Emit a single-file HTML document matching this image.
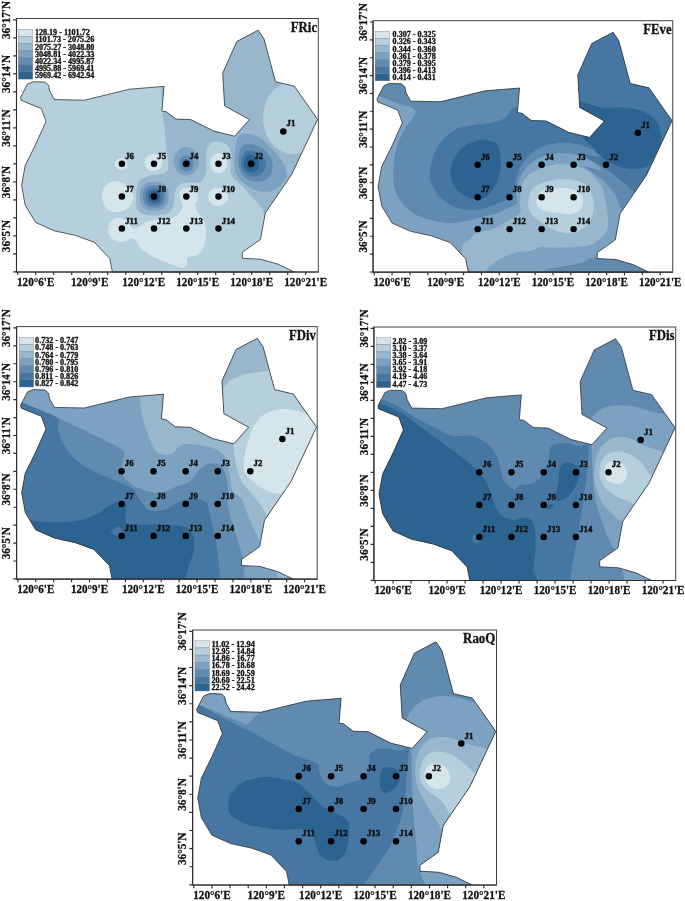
<!DOCTYPE html><html><head><meta charset="utf-8"><title>Functional diversity maps</title><style>
html,body{margin:0;padding:0;background:#fff}
svg{display:block}
text{font-family:"Liberation Serif",serif;font-weight:bold;fill:#111;stroke:#111;stroke-width:0.3px}
.ax{font-size:12.2px}.ti{font-size:14.4px}.lg{font-size:7.3px}.st{font-size:9.0px;stroke-width:0.45px}
</style></head><body>
<svg width="685" height="901" viewBox="0 0 685 901">
<defs><clipPath id="land"><path d="M33.3,81.7L45.0,82.1L48.5,85.2L49.7,91.0L54.4,99.6L84.5,100.2L129.4,89.2L164.0,86.4L161.9,111.2L166.3,111.7L175.9,119.1L190.8,119.6L213.6,131.0L234.6,136.2L249.5,119.6L224.6,105.9L222.7,73.2L236.8,41.5L258.2,30.2L264.0,38.8L275.5,81.7L294.3,86.2L317.6,119.3L291.8,174.3L265.4,212.8L260.5,239.4L242.3,252.3L242.3,258.3L261.0,259.3L278.3,264.3L294.3,272.0L112.4,272.0L109.8,258.5L94.2,242.2L75.4,235.4L54.3,230.8L35.6,222.5L25.2,205.2L21.6,185.4L25.2,165.6L35.6,144.6L46.0,121.4L41.4,108.6L21.3,100.4L20.5,97.5L27.5,84.0Z"/></clipPath></defs>
<rect width="685" height="901" fill="#fff"/>
<g transform="translate(0,0) scale(1,1)">
<g clip-path="url(#land)">
<rect x="0" y="0" width="340" height="300" fill="#b6cfdc"/>
<path d="M160.0,60.0C160.4,78.7 161.8,100.7 162.5,112.0C163.2,123.3 163.8,121.7 164.5,128.0C165.2,134.3 165.9,143.5 166.5,150.0C167.1,156.5 168.8,163.1 168.3,167.0C167.8,170.9 166.6,172.1 163.5,173.6C160.4,175.1 153.6,174.7 149.7,175.8C145.8,176.9 142.1,177.8 139.9,180.2C137.7,182.6 137.2,185.4 136.6,190.0C136.0,194.6 135.5,203.6 136.6,207.6C137.7,211.6 139.4,212.9 143.1,214.2C146.8,215.5 154.1,215.6 158.5,215.2C162.9,214.8 166.8,214.0 169.4,212.0C172.0,210.0 172.9,206.5 173.8,203.2C174.7,199.9 174.0,195.4 174.9,192.3C175.8,189.2 176.9,186.2 179.3,184.6C181.7,182.9 185.8,182.8 189.1,182.4C192.4,182.1 196.3,183.6 199.0,182.5C201.7,181.4 203.7,178.9 205.0,176.0C206.3,173.1 206.3,169.3 206.6,165.0C206.9,160.7 205.9,153.7 206.6,150.0C207.3,146.3 209.0,144.4 211.0,143.0C213.0,141.6 216.0,141.2 218.7,141.5C221.4,141.8 225.0,143.1 227.0,145.0C229.0,146.9 230.1,148.6 230.7,152.8C231.3,157.0 230.3,166.4 230.7,170.4C231.1,174.4 230.7,174.1 232.9,177.0C235.1,179.9 239.2,182.8 243.9,187.9C248.7,193.0 256.7,202.6 261.4,207.6C266.1,212.6 258.9,216.3 272.0,218.0C285.1,219.7 328.7,254.3 340.0,218.0C351.3,181.7 370.0,36.3 340.0,0.0C310.0,-36.3 190.0,-10.0 160.0,0.0C130.0,10.0 159.6,41.3 160.0,60.0Z" fill="#98b7cd" />
<path d="M323.0,118.0C323.0,122.6 322.2,127.5 320.7,131.8C319.3,136.0 316.9,140.2 314.2,143.5C311.5,146.7 308.0,149.5 304.5,151.3C300.9,153.0 296.8,154.0 293.0,154.0C289.2,154.0 285.1,153.0 281.5,151.3C278.0,149.5 274.5,146.7 271.8,143.5C269.1,140.2 266.7,136.0 265.3,131.8C263.8,127.5 263.0,122.6 263.0,118.0C263.0,113.4 263.8,108.5 265.3,104.2C266.7,100.0 269.1,95.8 271.8,92.5C274.5,89.3 278.0,86.5 281.5,84.7C285.1,83.0 289.2,82.0 293.0,82.0C296.8,82.0 300.9,83.0 304.5,84.7C308.0,86.5 311.5,89.3 314.2,92.5C316.9,95.8 319.3,100.0 320.7,104.2C322.2,108.5 323.0,113.4 323.0,118.0Z" fill="#b6cfdc" />
<path d="M239.0,135.5C236.7,137.8 236.0,142.5 235.3,148.0C234.6,153.5 233.8,163.1 234.6,168.4C235.4,173.8 237.5,176.7 240.4,180.1C243.3,183.5 247.7,186.9 252.1,188.8C256.5,190.8 262.3,192.0 266.7,191.8C271.1,191.6 275.2,189.6 278.4,187.4C281.6,185.2 284.4,181.3 285.7,178.6C287.0,175.9 287.1,174.5 286.4,171.3C285.7,168.1 283.6,163.2 281.3,159.6C279.0,155.9 276.0,152.9 272.6,149.4C269.2,145.9 264.8,141.1 260.9,138.5C257.0,135.9 252.8,134.6 249.2,134.1C245.5,133.6 241.3,133.2 239.0,135.5Z" fill="#7da1c1" />
<path d="M241.9,146.5C239.6,149.1 238.4,155.5 238.2,159.6C237.9,163.7 238.8,168.0 240.4,171.3C242.0,174.6 244.5,177.6 247.7,179.3C250.9,181.0 255.9,181.8 259.4,181.5C262.9,181.2 266.7,179.4 268.9,177.2C271.1,175.0 272.2,171.6 272.6,168.4C273.0,165.2 272.6,161.4 271.1,158.2C269.6,155.0 267.0,151.7 263.8,149.4C260.6,147.1 255.8,144.8 252.1,144.3C248.4,143.8 244.2,143.9 241.9,146.5Z" fill="#618ab1" />
<path d="M244.8,152.3C243.3,154.3 241.1,159.4 240.9,162.6C240.7,165.8 241.5,169.0 243.4,171.3C245.3,173.6 249.2,175.9 252.1,176.4C255.0,176.9 258.7,175.8 260.9,174.2C263.1,172.6 265.0,169.6 265.5,166.9C266.0,164.2 265.3,160.6 263.8,158.2C262.3,155.8 258.8,153.6 256.5,152.3C254.2,151.0 251.8,150.4 249.9,150.4C248.0,150.4 246.3,150.3 244.8,152.3Z" fill="#4676a2" />
<path d="M247.0,155.3C245.6,156.7 243.7,160.9 243.6,163.3C243.5,165.7 244.9,168.5 246.3,169.9C247.7,171.3 250.3,172.0 252.1,172.0C253.9,172.0 256.0,171.2 257.2,169.9C258.4,168.6 259.4,165.9 259.4,164.0C259.4,162.1 258.4,159.7 257.2,158.2C256.0,156.7 253.8,155.5 252.1,155.0C250.4,154.5 248.4,153.9 247.0,155.3Z" fill="#2c6390" />
<path d="M255.8,164.0C255.8,164.6 255.7,165.2 255.5,165.8C255.3,166.3 254.9,166.8 254.5,167.3C254.1,167.7 253.6,168.0 253.1,168.2C252.6,168.5 252.0,168.6 251.4,168.6C250.8,168.6 250.2,168.5 249.7,168.2C249.2,168.0 248.7,167.7 248.3,167.3C247.9,166.8 247.5,166.3 247.3,165.8C247.1,165.2 247.0,164.6 247.0,164.0C247.0,163.4 247.1,162.8 247.3,162.2C247.5,161.7 247.9,161.2 248.3,160.7C248.7,160.3 249.2,160.0 249.7,159.8C250.2,159.5 250.8,159.4 251.4,159.4C252.0,159.4 252.6,159.5 253.1,159.8C253.6,160.0 254.1,160.3 254.5,160.7C254.9,161.2 255.3,161.7 255.5,162.2C255.7,162.8 255.8,163.4 255.8,164.0Z" fill="#245a8a" />
<path d="M198.9,161.2C198.9,163.0 198.6,165.0 197.9,166.6C197.3,168.3 196.3,170.0 195.2,171.2C194.1,172.5 192.6,173.6 191.1,174.3C189.6,175.0 187.9,175.4 186.3,175.4C184.7,175.4 183.0,175.0 181.5,174.3C180.0,173.6 178.5,172.5 177.4,171.2C176.3,170.0 175.3,168.3 174.7,166.6C174.0,165.0 173.7,163.0 173.7,161.2C173.7,159.4 174.0,157.4 174.7,155.8C175.3,154.1 176.3,152.4 177.4,151.2C178.5,149.9 180.0,148.8 181.5,148.1C183.0,147.4 184.7,147.0 186.3,147.0C187.9,147.0 189.6,147.4 191.1,148.1C192.6,148.8 194.1,149.9 195.2,151.2C196.3,152.4 197.3,154.1 197.9,155.8C198.6,157.4 198.9,159.4 198.9,161.2Z" fill="#7da1c1" />
<path d="M193.4,163.4C193.4,164.4 193.2,165.6 192.9,166.5C192.5,167.5 192.0,168.5 191.3,169.2C190.7,169.9 189.9,170.6 189.0,171.0C188.2,171.4 187.2,171.6 186.3,171.6C185.4,171.6 184.4,171.4 183.6,171.0C182.7,170.6 181.9,169.9 181.3,169.2C180.6,168.5 180.1,167.5 179.7,166.5C179.4,165.6 179.2,164.4 179.2,163.4C179.2,162.4 179.4,161.2 179.7,160.3C180.1,159.3 180.6,158.3 181.3,157.6C181.9,156.9 182.7,156.2 183.6,155.8C184.4,155.4 185.4,155.2 186.3,155.2C187.2,155.2 188.2,155.4 189.0,155.8C189.9,156.2 190.7,156.9 191.3,157.6C192.0,158.3 192.5,159.3 192.9,160.3C193.2,161.2 193.4,162.4 193.4,163.4Z" fill="#618ab1" />
<path d="M190.8,163.7C190.8,164.3 190.7,165.0 190.5,165.5C190.2,166.1 189.9,166.7 189.5,167.1C189.1,167.5 188.6,167.9 188.0,168.1C187.5,168.4 186.9,168.5 186.3,168.5C185.7,168.5 185.1,168.4 184.6,168.1C184.0,167.9 183.5,167.5 183.1,167.1C182.7,166.7 182.4,166.1 182.1,165.5C181.9,165.0 181.8,164.3 181.8,163.7C181.8,163.1 181.9,162.4 182.1,161.9C182.4,161.3 182.7,160.7 183.1,160.3C183.5,159.9 184.0,159.5 184.6,159.3C185.1,159.0 185.7,158.9 186.3,158.9C186.9,158.9 187.5,159.0 188.0,159.3C188.6,159.5 189.1,159.9 189.5,160.3C189.9,160.7 190.2,161.3 190.5,161.9C190.7,162.4 190.8,163.1 190.8,163.7Z" fill="#4676a2" />
<rect x="139.9" y="182.1" width="28.6" height="28.6" rx="11.4" fill="#7da1c1"/>
<rect x="143.0" y="185.2" width="22.4" height="22.4" rx="9.0" fill="#618ab1"/>
<rect x="145.7" y="187.9" width="17.0" height="17.0" rx="6.8" fill="#4676a2"/>
<rect x="148.4" y="190.6" width="11.6" height="11.6" rx="4.6" fill="#2c6390"/>
<rect x="150.4" y="192.6" width="7.6" height="7.6" rx="3.0" fill="#245a8a"/>
<path d="M127.7,164.0C127.7,164.8 127.5,165.6 127.2,166.3C126.9,167.0 126.4,167.7 125.8,168.2C125.2,168.8 124.5,169.3 123.7,169.5C122.9,169.8 122.0,170.0 121.2,170.0C120.4,170.0 119.5,169.8 118.7,169.5C117.9,169.3 117.2,168.8 116.6,168.2C116.0,167.7 115.5,167.0 115.2,166.3C114.9,165.6 114.7,164.8 114.7,164.0C114.7,163.2 114.9,162.4 115.2,161.7C115.5,161.0 116.0,160.3 116.6,159.8C117.2,159.2 117.9,158.7 118.7,158.5C119.5,158.2 120.4,158.0 121.2,158.0C122.0,158.0 122.9,158.2 123.7,158.5C124.5,158.7 125.2,159.2 125.8,159.8C126.4,160.3 126.9,161.0 127.2,161.7C127.5,162.4 127.7,163.2 127.7,164.0Z" fill="#d4e5eb" />
<path d="M162.3,162.6C162.3,163.7 162.1,164.9 161.6,165.9C161.2,166.9 160.5,167.9 159.7,168.7C158.9,169.5 157.9,170.1 156.8,170.5C155.8,171.0 154.5,171.2 153.4,171.2C152.3,171.2 151.0,171.0 150.0,170.5C148.9,170.1 147.9,169.5 147.1,168.7C146.3,167.9 145.6,166.9 145.2,165.9C144.7,164.9 144.5,163.7 144.5,162.6C144.5,161.5 144.7,160.3 145.2,159.3C145.6,158.3 146.3,157.3 147.1,156.5C147.9,155.7 148.9,155.1 150.0,154.7C151.0,154.2 152.3,154.0 153.4,154.0C154.5,154.0 155.8,154.2 156.8,154.7C157.9,155.1 158.9,155.7 159.7,156.5C160.5,157.3 161.2,158.3 161.6,159.3C162.1,160.3 162.3,161.5 162.3,162.6Z" fill="#d4e5eb" />
<path d="M227.1,163.3C227.1,164.6 226.9,166.0 226.5,167.2C226.0,168.5 225.4,169.7 224.6,170.6C223.8,171.5 222.9,172.3 221.9,172.8C220.9,173.3 219.7,173.6 218.6,173.6C217.5,173.6 216.3,173.3 215.3,172.8C214.3,172.3 213.4,171.5 212.6,170.6C211.8,169.7 211.2,168.5 210.7,167.2C210.3,166.0 210.1,164.6 210.1,163.3C210.1,162.0 210.3,160.6 210.7,159.4C211.2,158.1 211.8,156.9 212.6,156.0C213.4,155.1 214.3,154.3 215.3,153.8C216.3,153.3 217.5,153.0 218.6,153.0C219.7,153.0 220.9,153.3 221.9,153.8C222.9,154.3 223.8,155.1 224.6,156.0C225.4,156.9 226.0,158.1 226.5,159.4C226.9,160.6 227.1,162.0 227.1,163.3Z" fill="#d4e5eb" />
<path d="M228.2,196.9C228.2,198.0 227.9,199.3 227.4,200.3C227.0,201.4 226.2,202.5 225.3,203.3C224.4,204.1 223.2,204.8 222.0,205.2C220.8,205.7 219.5,205.9 218.2,205.9C216.9,205.9 215.6,205.7 214.4,205.2C213.2,204.8 212.0,204.1 211.1,203.3C210.2,202.5 209.4,201.4 209.0,200.3C208.5,199.3 208.2,198.0 208.2,196.9C208.2,195.8 208.5,194.5 209.0,193.5C209.4,192.4 210.2,191.3 211.1,190.5C212.0,189.7 213.2,189.0 214.4,188.6C215.6,188.1 216.9,187.9 218.2,187.9C219.5,187.9 220.8,188.1 222.0,188.6C223.2,189.0 224.4,189.7 225.3,190.5C226.2,191.3 227.0,192.4 227.4,193.5C227.9,194.5 228.2,195.8 228.2,196.9Z" fill="#d4e5eb" />
<path d="M102.0,197.0C101.7,193.7 102.7,190.4 104.0,188.0C105.3,185.6 107.7,183.6 110.0,182.5C112.3,181.4 115.3,181.1 118.0,181.5C120.7,181.9 123.7,183.2 126.0,185.0C128.3,186.8 130.8,189.8 132.0,192.0C133.2,194.2 133.7,195.8 133.5,198.0C133.3,200.2 132.6,202.9 131.0,205.0C129.4,207.1 126.8,209.3 124.0,210.5C121.2,211.7 117.0,212.4 114.0,212.0C111.0,211.6 108.0,210.5 106.0,208.0C104.0,205.5 102.3,200.3 102.0,197.0Z" fill="#d4e5eb" />
<path d="M108.2,229.0C108.4,226.4 109.5,222.8 111.2,220.9C112.9,219.0 115.8,217.8 118.4,217.8C121.0,217.8 124.2,219.2 126.6,220.9C129.0,222.6 130.5,227.2 132.7,228.0C134.9,228.8 137.2,227.2 139.9,226.0C142.6,224.8 145.8,221.9 149.0,220.9C152.2,219.9 155.9,220.2 159.3,219.9C162.7,219.6 166.3,219.8 169.5,218.8C172.7,217.8 176.5,215.7 178.7,213.7C180.9,211.7 182.5,209.0 182.8,206.6C183.1,204.2 181.2,201.8 180.7,199.4C180.2,197.0 179.2,194.2 179.7,192.3C180.2,190.4 182.1,188.9 183.8,188.2C185.5,187.5 187.9,187.5 189.9,188.2C191.9,188.9 194.7,190.4 196.1,192.3C197.5,194.2 198.3,197.2 198.1,199.4C197.9,201.6 195.0,203.3 195.0,205.5C195.0,207.7 196.6,210.1 198.1,212.7C199.6,215.3 202.8,217.5 204.2,220.9C205.6,224.3 206.3,229.0 206.3,233.1C206.3,237.2 205.6,241.8 204.2,245.4C202.8,249.0 200.8,252.6 198.1,254.6C195.4,256.6 189.8,256.0 187.9,257.7C186.0,259.4 187.8,263.1 186.9,264.8C186.1,266.5 185.7,268.1 182.8,267.9C179.9,267.7 174.4,265.7 169.5,263.8C164.6,261.9 157.7,259.0 153.1,256.6C148.5,254.2 144.8,252.1 141.9,249.5C139.0,246.9 137.5,243.2 135.8,241.3C134.1,239.4 133.6,238.2 131.7,238.2C129.8,238.2 127.1,240.8 124.5,241.3C121.9,241.8 118.7,242.2 116.3,241.3C113.9,240.5 111.5,238.2 110.2,236.2C108.9,234.1 108.0,231.6 108.2,229.0Z" fill="#d4e5eb" />
</g>
<path d="M33.3,81.7L45.0,82.1L48.5,85.2L49.7,91.0L54.4,99.6L84.5,100.2L129.4,89.2L164.0,86.4L161.9,111.2L166.3,111.7L175.9,119.1L190.8,119.6L213.6,131.0L234.6,136.2L249.5,119.6L224.6,105.9L222.7,73.2L236.8,41.5L258.2,30.2L264.0,38.8L275.5,81.7L294.3,86.2L317.6,119.3L291.8,174.3L265.4,212.8L260.5,239.4L242.3,252.3L242.3,258.3L261.0,259.3L278.3,264.3L294.3,272.0L112.4,272.0L109.8,258.5L94.2,242.2L75.4,235.4L54.3,230.8L35.6,222.5L25.2,205.2L21.6,185.4L25.2,165.6L35.6,144.6L46.0,121.4L41.4,108.6L21.3,100.4L20.5,97.5L27.5,84.0Z" fill="none" stroke="#333" stroke-width="0.8" stroke-linejoin="round"/>
<rect x="16.5" y="18.5" width="301.8" height="253.5" fill="none" stroke="#404040" stroke-width="1"/>
<path d="M13.2,19.8H16.5M13.2,37.8H16.5M13.2,55.8H16.5M13.2,73.8H16.5M13.2,91.8H16.5M13.2,109.8H16.5M13.2,127.8H16.5M13.2,145.8H16.5M13.2,163.8H16.5M13.2,181.8H16.5M13.2,199.8H16.5M13.2,217.8H16.5M13.2,235.8H16.5M13.2,253.8H16.5M13.2,271.8H16.5M17.7,272.0V275.1M35.7,272.0V275.1M53.7,272.0V275.1M71.7,272.0V275.1M89.7,272.0V275.1M107.7,272.0V275.1M125.7,272.0V275.1M143.7,272.0V275.1M161.7,272.0V275.1M179.7,272.0V275.1M197.7,272.0V275.1M215.7,272.0V275.1M233.7,272.0V275.1M251.7,272.0V275.1M269.7,272.0V275.1M287.7,272.0V275.1M305.7,272.0V275.1M16.5,18.5V272.0H318.3" stroke="#2e2e2e" stroke-width="1.15" fill="none"/>
<text class="ax" transform="translate(10.3,20) rotate(-90) scale(0.915,1)" text-anchor="middle">36°17'N</text>
<text class="ax" transform="translate(10.3,74) rotate(-90) scale(0.915,1)" text-anchor="middle">36°14'N</text>
<text class="ax" transform="translate(10.3,128) rotate(-90) scale(0.915,1)" text-anchor="middle">36°11'N</text>
<text class="ax" transform="translate(10.3,182) rotate(-90) scale(0.915,1)" text-anchor="middle">36°8'N</text>
<text class="ax" transform="translate(10.3,236) rotate(-90) scale(0.915,1)" text-anchor="middle">36°5'N</text>
<text class="ax" transform="translate(35.7,285.6) scale(0.915,1)" text-anchor="middle">120°6'E</text>
<text class="ax" transform="translate(89.7,285.6) scale(0.915,1)" text-anchor="middle">120°9'E</text>
<text class="ax" transform="translate(143.7,285.6) scale(0.915,1)" text-anchor="middle">120°12'E</text>
<text class="ax" transform="translate(197.7,285.6) scale(0.915,1)" text-anchor="middle">120°15'E</text>
<text class="ax" transform="translate(251.7,285.6) scale(0.915,1)" text-anchor="middle">120°18'E</text>
<text class="ax" transform="translate(305.7,285.6) scale(0.915,1)" text-anchor="middle">120°21'E</text>
<text class="ti" transform="translate(317.1,31.8) scale(0.89,1)" text-anchor="end">FRic</text>
<rect x="18.4" y="29.20" width="14.4" height="7.13" fill="#d4e5eb" stroke="#777" stroke-width="0.35"/>
<text class="lg" x="34.9" y="35.30" textLength="54.9" lengthAdjust="spacingAndGlyphs">128.19 - 1101.72</text>
<rect x="18.4" y="36.33" width="14.4" height="7.13" fill="#b6cfdc" stroke="#777" stroke-width="0.35"/>
<text class="lg" x="34.9" y="42.43" textLength="59.5" lengthAdjust="spacingAndGlyphs">1101.73 - 2075.26</text>
<rect x="18.4" y="43.46" width="14.4" height="7.13" fill="#98b7cd" stroke="#777" stroke-width="0.35"/>
<text class="lg" x="34.9" y="49.56" textLength="59.5" lengthAdjust="spacingAndGlyphs">2075.27 - 3048.80</text>
<rect x="18.4" y="50.59" width="14.4" height="7.13" fill="#7da1c1" stroke="#777" stroke-width="0.35"/>
<text class="lg" x="34.9" y="56.69" textLength="59.5" lengthAdjust="spacingAndGlyphs">3048.81 - 4022.33</text>
<rect x="18.4" y="57.72" width="14.4" height="7.13" fill="#618ab1" stroke="#777" stroke-width="0.35"/>
<text class="lg" x="34.9" y="63.82" textLength="59.5" lengthAdjust="spacingAndGlyphs">4022.34 - 4995.87</text>
<rect x="18.4" y="64.85" width="14.4" height="7.13" fill="#4676a2" stroke="#777" stroke-width="0.35"/>
<text class="lg" x="34.9" y="70.95" textLength="59.5" lengthAdjust="spacingAndGlyphs">4995.88 - 5969.41</text>
<rect x="18.4" y="71.98" width="14.4" height="7.13" fill="#2c6390" stroke="#777" stroke-width="0.35"/>
<text class="lg" x="34.9" y="78.08" textLength="59.5" lengthAdjust="spacingAndGlyphs">5969.42 - 6942.94</text>
<circle cx="121.9" cy="163.8" r="3.25" fill="#000"/>
<text class="st" transform="translate(125.2,158.8) scale(0.98,1)">J6</text>
<circle cx="154.0" cy="163.8" r="3.25" fill="#000"/>
<text class="st" transform="translate(157.3,158.8) scale(0.98,1)">J5</text>
<circle cx="186.3" cy="163.8" r="3.25" fill="#000"/>
<text class="st" transform="translate(189.60000000000002,158.8) scale(0.98,1)">J4</text>
<circle cx="218.5" cy="163.8" r="3.25" fill="#000"/>
<text class="st" transform="translate(221.8,158.8) scale(0.98,1)">J3</text>
<circle cx="251.1" cy="163.8" r="3.25" fill="#000"/>
<text class="st" transform="translate(254.4,158.8) scale(0.98,1)">J2</text>
<circle cx="121.9" cy="196.5" r="3.25" fill="#000"/>
<text class="st" transform="translate(125.2,191.5) scale(0.98,1)">J7</text>
<circle cx="154.0" cy="196.5" r="3.25" fill="#000"/>
<text class="st" transform="translate(157.3,191.5) scale(0.98,1)">J8</text>
<circle cx="186.3" cy="196.5" r="3.25" fill="#000"/>
<text class="st" transform="translate(189.60000000000002,191.5) scale(0.98,1)">J9</text>
<circle cx="218.5" cy="196.5" r="3.25" fill="#000"/>
<text class="st" transform="translate(221.8,191.5) scale(0.98,1)">J10</text>
<circle cx="121.9" cy="228.6" r="3.25" fill="#000"/>
<text class="st" transform="translate(125.2,223.6) scale(0.98,1)">J11</text>
<circle cx="154.0" cy="228.6" r="3.25" fill="#000"/>
<text class="st" transform="translate(157.3,223.6) scale(0.98,1)">J12</text>
<circle cx="186.3" cy="228.6" r="3.25" fill="#000"/>
<text class="st" transform="translate(189.60000000000002,223.6) scale(0.98,1)">J13</text>
<circle cx="218.5" cy="228.6" r="3.25" fill="#000"/>
<text class="st" transform="translate(221.8,223.6) scale(0.98,1)">J14</text>
<circle cx="283.3" cy="131.4" r="3.25" fill="#000"/>
<text class="st" transform="translate(286.6,126.4) scale(0.98,1)">J1</text>
</g>
<g transform="translate(356.65,2.35) scale(0.993,0.992)">
<g clip-path="url(#land)">
<rect x="0" y="0" width="340" height="300" fill="#7da1c1"/>
<path d="M13.4,89.4C17.1,93.3 17.4,91.7 21.7,93.6C26.0,95.6 33.0,98.5 39.3,101.2C45.6,103.8 57.7,105.1 59.3,109.4C60.9,113.7 51.9,121.0 48.7,127.1C45.6,133.1 42.5,139.2 40.5,145.9C38.5,152.6 37.4,160.5 37.0,167.1C36.5,173.7 36.7,180.0 37.9,185.5C39.1,191.0 41.0,195.4 44.1,199.9C47.2,204.4 51.3,209.0 56.4,212.3C61.6,215.5 68.8,217.8 75.0,219.5C81.1,221.2 87.7,222.4 93.5,222.6C99.3,222.7 104.5,221.5 110.0,220.5C115.4,219.5 121.6,217.6 126.4,216.4C131.2,215.2 134.7,214.7 138.8,213.3C142.9,211.9 147.3,209.9 151.1,208.1C154.9,206.4 159.8,204.7 161.4,203.0C163.1,201.3 160.9,201.2 161.0,198.0C161.2,194.8 161.2,188.2 162.2,183.9C163.2,179.5 164.6,175.8 166.9,172.1C169.3,168.4 172.4,164.4 176.3,161.5C180.3,158.6 185.7,156.0 190.4,154.4C195.2,152.9 199.5,152.3 204.6,152.1C209.7,151.9 215.9,152.1 221.0,153.3C226.1,154.4 230.8,156.4 235.1,159.1C239.5,161.9 247.9,168.7 246.9,169.7C245.9,170.8 229.3,164.0 229.4,165.5C229.4,167.0 242.0,174.1 247.2,178.9C252.4,183.8 257.5,189.7 260.6,194.6C263.8,199.4 263.3,204.6 266.2,208.0C269.2,211.3 265.4,216.0 278.5,214.7C291.7,213.4 333.9,235.8 345.0,200.0C356.1,164.2 402.5,33.3 345.0,0.0C287.5,-33.3 57.5,-11.7 0.0,0.0C-57.5,11.7 -2.2,55.1 0.0,70.0C2.2,84.9 9.8,85.4 13.4,89.4Z" fill="#618ab1" />
<path d="M243.4,256.4C231.0,257.3 233.1,260.6 227.5,262.2C221.9,263.8 215.1,264.7 209.9,265.7C204.6,266.8 199.6,267.3 195.7,268.4C191.9,269.4 189.6,270.1 186.9,271.9C184.3,273.7 173.1,276.6 179.9,279.0C186.6,281.3 207.2,285.4 227.5,286.0C247.8,286.6 289.2,287.4 301.6,282.5C313.9,277.6 311.3,260.7 301.6,256.4C291.9,252.0 255.7,255.4 243.4,256.4Z" fill="#618ab1" />
<path d="M178.1,96.5C177.5,113.7 169.9,101.7 166.3,103.5C162.8,105.3 160.5,104.5 156.9,107.0C153.4,109.6 152.6,115.9 145.2,118.8C137.7,121.8 119.9,123.1 112.2,124.7C104.6,126.3 103.6,125.9 99.3,128.2C95.0,130.6 90.1,134.3 86.4,138.8C82.6,143.3 79.1,149.4 77.0,155.3C74.8,161.2 73.8,169.8 73.4,174.2C73.1,178.5 73.3,177.8 75.0,181.4C76.6,185.0 79.4,191.7 83.2,195.8C87.0,199.9 92.5,203.9 97.6,206.1C102.8,208.3 108.6,209.0 114.1,209.2C119.6,209.3 125.7,208.3 130.5,207.1C135.3,205.9 138.8,203.9 142.9,202.0C147.0,200.1 152.6,198.4 155.2,195.8C157.9,193.2 157.5,190.2 158.7,186.2C159.9,182.3 160.5,176.6 162.2,172.1C164.0,167.6 166.1,163.1 169.3,159.1C172.4,155.2 177.1,151.1 181.0,148.5C185.0,146.0 188.5,145.0 192.8,143.8C197.1,142.7 202.2,141.7 206.9,141.5C211.6,141.3 216.3,141.7 221.0,142.7C225.7,143.6 230.8,145.2 235.1,147.4C239.5,149.5 247.9,154.5 246.9,155.6C245.9,156.8 229.3,152.6 229.4,154.3C229.4,155.9 241.6,161.7 247.2,165.5C252.8,169.2 257.5,172.4 262.9,176.7C268.3,181.0 275.2,187.9 279.6,191.2C284.1,194.6 278.8,197.0 289.7,196.8C300.6,196.6 335.8,222.8 345.0,190.0C354.2,157.2 374.2,31.7 345.0,0.0C315.8,-31.7 197.8,-16.1 170.0,0.0C142.2,16.1 178.7,79.2 178.1,96.5Z" fill="#4676a2" />
<path d="M124.0,138.8C119.3,139.8 112.0,142.4 107.5,145.9C103.0,149.4 99.1,155.3 96.9,160.0C94.8,164.7 94.0,169.4 94.6,174.2C95.2,178.9 97.5,184.6 100.5,188.3C103.4,192.0 108.3,194.8 112.2,196.5C116.2,198.3 120.1,199.9 124.0,198.9C127.9,197.9 132.6,194.4 135.8,190.6C138.9,186.9 141.2,181.2 142.8,176.5C144.4,171.8 145.2,167.5 145.2,162.4C145.2,157.3 144.4,149.6 142.8,145.9C141.2,142.2 138.9,141.2 135.8,140.0C132.6,138.8 128.7,137.9 124.0,138.8Z" fill="#2c6390" />
<path d="M218.2,100.6C221.5,95.9 238.7,105.2 247.2,106.2C255.8,107.1 262.9,105.6 269.6,106.2C276.3,106.7 282.3,107.5 287.5,109.5C292.7,111.6 297.7,114.8 300.9,118.5C304.1,122.2 305.7,127.8 306.5,131.9C307.2,136.0 307.0,138.3 305.4,143.1C303.7,147.9 299.0,157.1 296.4,161.0C293.8,164.9 293.4,165.5 289.7,166.6C286.0,167.7 279.3,168.3 274.1,167.7C268.8,167.2 263.3,165.5 258.4,163.2C253.6,161.0 248.7,157.5 245.0,154.3C241.3,151.1 239.0,147.6 236.1,144.2C233.1,140.9 230.1,141.4 227.1,134.2C224.1,126.9 214.8,105.2 218.2,100.6Z" fill="#2c6390" />
<path d="M111.0,265.8C107.6,260.6 105.3,251.8 105.8,247.3C106.4,242.8 111.7,241.5 114.1,239.1C116.5,236.6 117.2,234.4 120.3,232.9C123.3,231.3 128.5,231.2 132.6,229.8C136.7,228.4 141.2,226.5 144.9,224.6C148.7,222.7 152.0,220.5 155.2,218.4C158.5,216.4 163.0,214.7 164.6,212.1C166.1,209.5 164.4,207.0 164.6,202.7C164.8,198.4 164.4,190.9 165.8,186.2C167.1,181.5 169.5,177.6 172.8,174.4C176.1,171.3 180.8,169.3 185.7,167.4C190.6,165.5 196.3,163.5 202.2,163.1C208.1,162.8 215.5,163.6 221.0,165.0C226.5,166.4 230.8,168.1 235.1,171.6C239.5,175.2 244.2,181.0 246.9,186.2C249.6,191.4 250.0,197.0 251.1,202.7C252.2,208.4 253.3,216.2 253.4,220.7C253.6,225.2 253.3,226.9 252.2,229.5C251.1,232.2 249.3,234.2 246.9,236.6C244.6,238.9 241.6,242.0 238.1,243.7C234.6,245.3 230.4,245.7 225.7,246.3C221.0,246.9 215.4,247.0 209.9,247.2C204.3,247.3 196.3,247.3 192.2,247.2C188.1,247.0 188.1,245.7 185.2,246.3C182.2,246.9 178.5,249.8 174.6,250.7C170.6,251.7 166.1,250.9 161.6,252.0C157.0,253.1 151.6,255.2 147.4,257.3C143.3,259.3 139.8,262.0 136.9,264.3C133.9,266.7 131.6,269.0 129.8,271.4C128.0,273.7 129.4,279.4 126.3,278.5C123.1,277.5 114.4,271.0 111.0,265.8Z" fill="#98b7cd" />
<path d="M172.8,205.1C172.8,201.5 173.0,194.7 175.2,190.9C177.3,187.2 181.2,184.7 185.7,182.7C190.3,180.6 196.3,179.2 202.2,178.7C208.1,178.2 215.9,178.4 221.0,179.6C226.1,180.9 230.0,183.2 232.8,186.2C235.6,189.3 237.1,193.7 238.0,198.0C238.8,202.3 238.8,207.8 238.0,212.1C237.1,216.4 235.6,220.7 232.8,223.9C230.0,227.1 225.3,230.1 221.0,231.4C216.7,232.8 211.6,233.0 206.9,232.1C202.2,231.3 197.1,228.6 192.8,226.2C188.5,223.9 184.0,220.4 181.0,218.0C178.1,215.7 176.5,214.3 175.2,212.1C173.8,210.0 172.8,208.6 172.8,205.1Z" fill="#b6cfdc" />
<path d="M181.0,202.7C180.5,199.8 182.2,194.7 184.6,192.1C186.9,189.6 190.6,188.2 195.2,187.4C199.7,186.6 206.9,186.8 211.6,187.4C216.3,188.0 220.6,188.8 223.4,190.9C226.1,193.1 227.7,197.4 228.1,200.3C228.5,203.3 227.7,206.4 225.7,208.6C223.8,210.7 220.2,212.7 216.3,213.3C212.4,213.9 206.9,212.7 202.2,212.1C197.5,211.5 191.6,211.3 188.1,209.8C184.6,208.2 181.6,205.6 181.0,202.7Z" fill="#d4e5eb" />
</g>
<path d="M33.3,81.7L45.0,82.1L48.5,85.2L49.7,91.0L54.4,99.6L84.5,100.2L129.4,89.2L164.0,86.4L161.9,111.2L166.3,111.7L175.9,119.1L190.8,119.6L213.6,131.0L234.6,136.2L249.5,119.6L224.6,105.9L222.7,73.2L236.8,41.5L258.2,30.2L264.0,38.8L275.5,81.7L294.3,86.2L317.6,119.3L291.8,174.3L265.4,212.8L260.5,239.4L242.3,252.3L242.3,258.3L261.0,259.3L278.3,264.3L294.3,272.0L112.4,272.0L109.8,258.5L94.2,242.2L75.4,235.4L54.3,230.8L35.6,222.5L25.2,205.2L21.6,185.4L25.2,165.6L35.6,144.6L46.0,121.4L41.4,108.6L21.3,100.4L20.5,97.5L27.5,84.0Z" fill="none" stroke="#333" stroke-width="0.8" stroke-linejoin="round"/>
<rect x="16.5" y="18.5" width="301.8" height="253.5" fill="none" stroke="#404040" stroke-width="1"/>
<path d="M13.2,19.8H16.5M13.2,37.8H16.5M13.2,55.8H16.5M13.2,73.8H16.5M13.2,91.8H16.5M13.2,109.8H16.5M13.2,127.8H16.5M13.2,145.8H16.5M13.2,163.8H16.5M13.2,181.8H16.5M13.2,199.8H16.5M13.2,217.8H16.5M13.2,235.8H16.5M13.2,253.8H16.5M13.2,271.8H16.5M17.7,272.0V275.1M35.7,272.0V275.1M53.7,272.0V275.1M71.7,272.0V275.1M89.7,272.0V275.1M107.7,272.0V275.1M125.7,272.0V275.1M143.7,272.0V275.1M161.7,272.0V275.1M179.7,272.0V275.1M197.7,272.0V275.1M215.7,272.0V275.1M233.7,272.0V275.1M251.7,272.0V275.1M269.7,272.0V275.1M287.7,272.0V275.1M305.7,272.0V275.1M16.5,18.5V272.0H318.3" stroke="#2e2e2e" stroke-width="1.15" fill="none"/>
<text class="ax" transform="translate(10.3,20) rotate(-90) scale(0.915,1)" text-anchor="middle">36°17'N</text>
<text class="ax" transform="translate(10.3,74) rotate(-90) scale(0.915,1)" text-anchor="middle">36°14'N</text>
<text class="ax" transform="translate(10.3,128) rotate(-90) scale(0.915,1)" text-anchor="middle">36°11'N</text>
<text class="ax" transform="translate(10.3,182) rotate(-90) scale(0.915,1)" text-anchor="middle">36°8'N</text>
<text class="ax" transform="translate(10.3,236) rotate(-90) scale(0.915,1)" text-anchor="middle">36°5'N</text>
<text class="ax" transform="translate(35.7,285.6) scale(0.915,1)" text-anchor="middle">120°6'E</text>
<text class="ax" transform="translate(89.7,285.6) scale(0.915,1)" text-anchor="middle">120°9'E</text>
<text class="ax" transform="translate(143.7,285.6) scale(0.915,1)" text-anchor="middle">120°12'E</text>
<text class="ax" transform="translate(197.7,285.6) scale(0.915,1)" text-anchor="middle">120°15'E</text>
<text class="ax" transform="translate(251.7,285.6) scale(0.915,1)" text-anchor="middle">120°18'E</text>
<text class="ax" transform="translate(305.7,285.6) scale(0.915,1)" text-anchor="middle">120°21'E</text>
<text class="ti" transform="translate(317.1,31.8) scale(0.89,1)" text-anchor="end">FEve</text>
<rect x="18.6" y="29.20" width="14.4" height="7.13" fill="#d4e5eb" stroke="#777" stroke-width="0.35"/>
<text class="lg" x="36.2" y="35.30" textLength="43.4" lengthAdjust="spacingAndGlyphs">0.307 - 0.325</text>
<rect x="18.6" y="36.33" width="14.4" height="7.13" fill="#b6cfdc" stroke="#777" stroke-width="0.35"/>
<text class="lg" x="36.2" y="42.43" textLength="43.4" lengthAdjust="spacingAndGlyphs">0.326 - 0.343</text>
<rect x="18.6" y="43.46" width="14.4" height="7.13" fill="#98b7cd" stroke="#777" stroke-width="0.35"/>
<text class="lg" x="36.2" y="49.56" textLength="43.4" lengthAdjust="spacingAndGlyphs">0.344 - 0.360</text>
<rect x="18.6" y="50.59" width="14.4" height="7.13" fill="#7da1c1" stroke="#777" stroke-width="0.35"/>
<text class="lg" x="36.2" y="56.69" textLength="43.4" lengthAdjust="spacingAndGlyphs">0.361 - 0.378</text>
<rect x="18.6" y="57.72" width="14.4" height="7.13" fill="#618ab1" stroke="#777" stroke-width="0.35"/>
<text class="lg" x="36.2" y="63.82" textLength="43.4" lengthAdjust="spacingAndGlyphs">0.379 - 0.395</text>
<rect x="18.6" y="64.85" width="14.4" height="7.13" fill="#4676a2" stroke="#777" stroke-width="0.35"/>
<text class="lg" x="36.2" y="70.95" textLength="43.4" lengthAdjust="spacingAndGlyphs">0.396 - 0.413</text>
<rect x="18.6" y="71.98" width="14.4" height="7.13" fill="#2c6390" stroke="#777" stroke-width="0.35"/>
<text class="lg" x="36.2" y="78.08" textLength="43.4" lengthAdjust="spacingAndGlyphs">0.414 - 0.431</text>
<circle cx="121.9" cy="163.8" r="3.25" fill="#000"/>
<text class="st" transform="translate(125.2,158.8) scale(0.98,1)">J6</text>
<circle cx="154.0" cy="163.8" r="3.25" fill="#000"/>
<text class="st" transform="translate(157.3,158.8) scale(0.98,1)">J5</text>
<circle cx="186.3" cy="163.8" r="3.25" fill="#000"/>
<text class="st" transform="translate(189.60000000000002,158.8) scale(0.98,1)">J4</text>
<circle cx="218.5" cy="163.8" r="3.25" fill="#000"/>
<text class="st" transform="translate(221.8,158.8) scale(0.98,1)">J3</text>
<circle cx="251.1" cy="163.8" r="3.25" fill="#000"/>
<text class="st" transform="translate(254.4,158.8) scale(0.98,1)">J2</text>
<circle cx="121.9" cy="196.5" r="3.25" fill="#000"/>
<text class="st" transform="translate(125.2,191.5) scale(0.98,1)">J7</text>
<circle cx="154.0" cy="196.5" r="3.25" fill="#000"/>
<text class="st" transform="translate(157.3,191.5) scale(0.98,1)">J8</text>
<circle cx="186.3" cy="196.5" r="3.25" fill="#000"/>
<text class="st" transform="translate(189.60000000000002,191.5) scale(0.98,1)">J9</text>
<circle cx="218.5" cy="196.5" r="3.25" fill="#000"/>
<text class="st" transform="translate(221.8,191.5) scale(0.98,1)">J10</text>
<circle cx="121.9" cy="228.6" r="3.25" fill="#000"/>
<text class="st" transform="translate(125.2,223.6) scale(0.98,1)">J11</text>
<circle cx="154.0" cy="228.6" r="3.25" fill="#000"/>
<text class="st" transform="translate(157.3,223.6) scale(0.98,1)">J12</text>
<circle cx="186.3" cy="228.6" r="3.25" fill="#000"/>
<text class="st" transform="translate(189.60000000000002,223.6) scale(0.98,1)">J13</text>
<circle cx="218.5" cy="228.6" r="3.25" fill="#000"/>
<text class="st" transform="translate(221.8,223.6) scale(0.98,1)">J14</text>
<circle cx="283.3" cy="131.4" r="3.25" fill="#000"/>
<text class="st" transform="translate(286.6,126.4) scale(0.98,1)">J1</text>
</g>
<g transform="translate(0.17,308.2) scale(0.996,0.996)">
<g clip-path="url(#land)">
<rect x="0" y="0" width="340" height="300" fill="#7da1c1"/>
<path d="M141.2,76.8C139.9,94.7 141.2,99.1 142.4,107.3C143.5,115.5 146.1,120.2 148.2,126.0C150.4,131.9 152.5,138.9 155.3,142.4C158.0,146.0 161.6,147.0 164.6,147.4C167.6,147.9 170.8,146.7 173.4,145.2C175.9,143.8 177.4,140.1 180.0,138.6C182.5,137.2 184.4,136.4 188.8,136.4C193.2,136.4 201.2,137.5 206.3,138.6C211.5,139.7 216.1,140.8 219.5,143.0C223.0,145.2 225.4,147.8 227.2,151.8C229.1,155.9 229.5,162.1 230.5,167.2C231.5,172.3 231.2,178.6 233.2,182.6C235.2,186.6 240.5,188.9 242.4,191.3C244.3,193.8 243.3,193.8 244.6,197.2C245.9,200.6 248.5,207.2 250.5,211.8C252.4,216.5 254.5,221.1 256.3,225.0C258.2,228.9 259.7,232.6 261.5,235.3C263.2,238.0 252.7,240.4 266.6,241.2C280.5,241.9 331.9,280.2 345.0,240.0C358.1,199.8 377.5,40.0 345.0,0.0C312.5,-40.0 184.0,-12.8 150.0,0.0C116.0,12.8 142.5,58.9 141.2,76.8Z" fill="#98b7cd" />
<path d="M276.1,260.9L280.5,276.3L306.2,276.3L306.2,264.6L282.7,262.4Z" fill="#98b7cd" />
<path d="M217.7,98.9C216.0,90.1 221.0,87.3 223.0,83.1C225.0,78.9 226.3,76.5 229.6,73.8C232.9,71.2 238.4,68.8 242.8,67.3C247.2,65.7 251.1,65.4 256.0,64.6C260.8,63.9 266.5,63.2 271.8,62.8C277.1,62.3 275.4,60.8 287.6,62.0C299.8,63.2 335.4,44.5 345.0,70.0C354.6,95.5 356.8,191.1 345.0,215.0C333.2,238.9 286.5,214.1 273.9,213.3C261.3,212.5 271.0,212.1 269.5,210.4C268.1,208.7 266.8,205.7 265.1,203.1C263.4,200.4 261.9,197.7 259.3,194.3C256.6,190.8 252.0,186.2 249.0,182.5C246.0,178.9 243.4,176.3 241.5,172.4C239.6,168.6 238.5,163.8 237.5,159.5C236.4,155.2 235.7,150.5 235.0,146.6C234.4,142.7 236.3,144.1 233.4,136.1C230.5,128.2 219.4,107.8 217.7,98.9Z" fill="#b6cfdc" />
<path d="M244.7,159.5C244.7,156.6 244.7,151.5 245.5,146.6C246.3,141.8 247.8,135.6 249.6,130.5C251.3,125.4 253.3,120.0 256.0,116.0C258.7,112.0 261.6,108.7 265.7,106.3C269.7,103.9 275.3,102.1 280.2,101.5C285.0,100.8 290.1,101.5 294.7,102.3C299.3,103.1 302.0,104.3 307.6,106.3C313.2,108.3 325.1,102.3 328.6,114.4C332.0,126.5 335.1,167.0 328.6,178.9C322.0,190.7 297.1,184.1 289.1,185.3C281.0,186.5 283.5,186.4 280.2,186.1C276.8,185.9 272.7,185.2 268.9,183.7C265.1,182.2 260.8,179.5 257.6,177.3C254.4,175.0 251.6,172.1 249.6,170.0C247.5,167.8 246.3,166.1 245.5,164.4C244.7,162.6 244.7,162.5 244.7,159.5Z" fill="#d4e5eb" />
<path d="M14.6,89.7C17.1,90.8 16.7,92.0 21.6,94.4C26.5,96.7 45.1,104.1 56.8,109.6C68.4,115.1 113.5,136.3 121.3,141.3C129.0,146.2 122.8,149.2 122.9,151.8C123.0,154.5 121.5,161.6 122.0,164.0C122.5,166.5 125.4,171.1 127.1,172.9C128.8,174.8 135.1,179.1 136.5,180.0C137.9,180.8 137.7,179.9 139.1,180.4C140.4,180.9 145.6,183.3 147.9,183.9C150.1,184.5 156.0,185.8 158.4,185.7C160.9,185.6 166.7,183.9 169.0,183.0C171.2,182.2 175.5,179.6 177.8,178.6C180.0,177.7 186.3,176.4 188.3,175.1C190.4,173.9 193.9,169.7 195.4,168.1C196.8,166.5 199.2,162.4 200.6,161.1C202.1,159.7 205.8,157.3 207.7,156.7C209.5,156.0 214.6,155.4 216.5,155.8C218.3,156.2 222.3,158.5 223.5,160.2C224.7,161.8 226.4,167.3 227.0,169.9C227.6,172.4 228.6,179.0 228.8,182.2C228.9,185.4 228.1,193.7 228.5,197.2C228.9,200.7 231.2,208.4 232.1,211.8C233.1,215.3 235.5,223.1 236.5,226.5C237.6,229.9 240.1,238.3 240.9,241.2C241.8,244.1 243.4,249.3 243.9,251.4C244.3,253.6 244.4,256.6 244.6,259.5C244.8,262.4 245.9,272.2 245.3,276.3C244.8,280.5 268.6,292.8 240.0,295.0C211.4,297.2 28.0,319.5 0.0,295.0C-28.0,270.5 -1.7,109.0 0.0,85.0C1.7,61.0 12.0,88.6 14.6,89.7Z" fill="#618ab1" />
<path d="M14.6,89.7C17.1,90.8 16.7,92.0 21.6,94.4C26.5,96.7 52.5,106.7 56.8,109.6C61.0,112.5 57.4,116.3 57.9,119.0C58.5,121.7 60.0,129.8 61.5,133.1C63.0,136.3 68.1,144.1 70.8,147.1C73.6,150.1 81.1,156.4 84.9,158.9C88.7,161.3 99.6,166.3 103.7,168.2C107.8,170.2 116.5,173.6 120.1,175.3C123.6,176.9 131.7,180.1 134.2,182.3C136.6,184.5 139.6,191.7 141.2,194.0C142.8,196.4 146.0,201.0 148.2,202.2C150.4,203.5 159.2,204.4 160.0,204.6C160.7,204.8 154.3,204.4 154.9,204.1C155.5,203.9 163.2,203.2 165.5,202.4C167.7,201.6 172.2,198.2 174.2,197.1C176.3,196.0 181.0,193.4 183.0,192.7C185.1,192.0 189.8,191.1 191.8,191.0C193.9,190.9 198.8,191.2 200.6,191.8C202.5,192.5 206.6,194.9 207.7,196.2C208.7,197.6 210.0,205.1 209.9,203.5C209.7,201.9 206.6,183.3 206.5,182.5C206.4,181.8 208.1,193.8 208.7,197.2C209.3,200.6 210.9,208.4 211.6,211.8C212.4,215.3 214.5,222.7 215.3,226.5C216.1,230.3 217.7,240.3 218.2,244.1C218.7,247.9 219.5,255.0 219.7,258.7C219.9,262.5 222.0,272.1 219.7,276.3C217.4,280.6 225.6,292.8 200.0,295.0C174.4,297.2 23.3,319.5 0.0,295.0C-23.3,270.5 -1.7,109.0 0.0,85.0C1.7,61.0 12.0,88.6 14.6,89.7Z" fill="#4676a2" />
<path d="M19.3,210.5C23.0,201.5 27.8,213.0 32.1,213.5C36.5,214.0 51.2,215.2 56.8,215.1C62.4,215.1 75.3,213.9 80.2,212.8C85.1,211.7 95.7,207.4 99.0,205.8C102.3,204.1 105.9,200.0 108.4,198.7C110.8,197.4 118.0,195.1 120.1,194.7C122.2,194.4 125.7,193.3 126.4,195.7C127.2,198.1 124.7,212.7 126.4,215.1C128.1,217.6 139.6,216.5 141.2,216.8C142.8,217.0 137.9,217.3 140.4,217.3C142.9,217.4 157.8,217.2 162.4,217.3C167.0,217.4 176.8,217.7 180.0,218.2C183.2,218.8 188.2,220.7 189.9,222.2C191.5,223.7 193.7,228.4 194.3,231.0C194.8,233.5 194.8,241.1 194.3,244.2C193.7,247.2 190.8,254.3 189.9,257.4C189.0,260.4 187.1,267.0 186.6,270.5C186.0,274.1 195.6,284.7 185.5,288.1C175.4,291.6 121.6,299.8 100.0,300.0C78.4,300.2 9.4,300.4 0.0,290.0C-9.4,279.6 15.5,219.4 19.3,210.5Z" fill="#2c6390" />
<path d="M111.2,224.5C111.2,223.4 112.9,222.0 114.2,221.2C115.5,220.5 117.6,219.7 118.9,219.8C120.3,220.0 121.8,221.0 122.4,222.2C123.1,223.4 123.5,225.8 122.9,226.9C122.3,228.0 120.4,228.6 118.9,228.7C117.5,228.9 115.5,228.5 114.2,227.8C112.9,227.1 111.2,225.6 111.2,224.5Z" fill="#4676a2" />
</g>
<path d="M33.3,81.7L45.0,82.1L48.5,85.2L49.7,91.0L54.4,99.6L84.5,100.2L129.4,89.2L164.0,86.4L161.9,111.2L166.3,111.7L175.9,119.1L190.8,119.6L213.6,131.0L234.6,136.2L249.5,119.6L224.6,105.9L222.7,73.2L236.8,41.5L258.2,30.2L264.0,38.8L275.5,81.7L294.3,86.2L317.6,119.3L291.8,174.3L265.4,212.8L260.5,239.4L242.3,252.3L242.3,258.3L261.0,259.3L278.3,264.3L294.3,272.0L112.4,272.0L109.8,258.5L94.2,242.2L75.4,235.4L54.3,230.8L35.6,222.5L25.2,205.2L21.6,185.4L25.2,165.6L35.6,144.6L46.0,121.4L41.4,108.6L21.3,100.4L20.5,97.5L27.5,84.0Z" fill="none" stroke="#333" stroke-width="0.8" stroke-linejoin="round"/>
<rect x="16.5" y="18.5" width="301.8" height="253.5" fill="none" stroke="#404040" stroke-width="1"/>
<path d="M13.2,19.8H16.5M13.2,37.8H16.5M13.2,55.8H16.5M13.2,73.8H16.5M13.2,91.8H16.5M13.2,109.8H16.5M13.2,127.8H16.5M13.2,145.8H16.5M13.2,163.8H16.5M13.2,181.8H16.5M13.2,199.8H16.5M13.2,217.8H16.5M13.2,235.8H16.5M13.2,253.8H16.5M13.2,271.8H16.5M17.7,272.0V275.1M35.7,272.0V275.1M53.7,272.0V275.1M71.7,272.0V275.1M89.7,272.0V275.1M107.7,272.0V275.1M125.7,272.0V275.1M143.7,272.0V275.1M161.7,272.0V275.1M179.7,272.0V275.1M197.7,272.0V275.1M215.7,272.0V275.1M233.7,272.0V275.1M251.7,272.0V275.1M269.7,272.0V275.1M287.7,272.0V275.1M305.7,272.0V275.1M16.5,18.5V272.0H318.3" stroke="#2e2e2e" stroke-width="1.15" fill="none"/>
<text class="ax" transform="translate(10.3,20) rotate(-90) scale(0.915,1)" text-anchor="middle">36°17'N</text>
<text class="ax" transform="translate(10.3,74) rotate(-90) scale(0.915,1)" text-anchor="middle">36°14'N</text>
<text class="ax" transform="translate(10.3,128) rotate(-90) scale(0.915,1)" text-anchor="middle">36°11'N</text>
<text class="ax" transform="translate(10.3,182) rotate(-90) scale(0.915,1)" text-anchor="middle">36°8'N</text>
<text class="ax" transform="translate(10.3,236) rotate(-90) scale(0.915,1)" text-anchor="middle">36°5'N</text>
<text class="ax" transform="translate(35.7,285.6) scale(0.915,1)" text-anchor="middle">120°6'E</text>
<text class="ax" transform="translate(89.7,285.6) scale(0.915,1)" text-anchor="middle">120°9'E</text>
<text class="ax" transform="translate(143.7,285.6) scale(0.915,1)" text-anchor="middle">120°12'E</text>
<text class="ax" transform="translate(197.7,285.6) scale(0.915,1)" text-anchor="middle">120°15'E</text>
<text class="ax" transform="translate(251.7,285.6) scale(0.915,1)" text-anchor="middle">120°18'E</text>
<text class="ax" transform="translate(305.7,285.6) scale(0.915,1)" text-anchor="middle">120°21'E</text>
<text class="ti" transform="translate(317.1,31.8) scale(0.89,1)" text-anchor="end">FDiv</text>
<rect x="19.2" y="29.20" width="14.4" height="7.13" fill="#d4e5eb" stroke="#777" stroke-width="0.35"/>
<text class="lg" x="35.1" y="35.30" textLength="43.4" lengthAdjust="spacingAndGlyphs">0.732 - 0.747</text>
<rect x="19.2" y="36.33" width="14.4" height="7.13" fill="#b6cfdc" stroke="#777" stroke-width="0.35"/>
<text class="lg" x="35.1" y="42.43" textLength="43.4" lengthAdjust="spacingAndGlyphs">0.748 - 0.763</text>
<rect x="19.2" y="43.46" width="14.4" height="7.13" fill="#98b7cd" stroke="#777" stroke-width="0.35"/>
<text class="lg" x="35.1" y="49.56" textLength="43.4" lengthAdjust="spacingAndGlyphs">0.764 - 0.779</text>
<rect x="19.2" y="50.59" width="14.4" height="7.13" fill="#7da1c1" stroke="#777" stroke-width="0.35"/>
<text class="lg" x="35.1" y="56.69" textLength="43.4" lengthAdjust="spacingAndGlyphs">0.780 - 0.795</text>
<rect x="19.2" y="57.72" width="14.4" height="7.13" fill="#618ab1" stroke="#777" stroke-width="0.35"/>
<text class="lg" x="35.1" y="63.82" textLength="43.4" lengthAdjust="spacingAndGlyphs">0.796 - 0.810</text>
<rect x="19.2" y="64.85" width="14.4" height="7.13" fill="#4676a2" stroke="#777" stroke-width="0.35"/>
<text class="lg" x="35.1" y="70.95" textLength="43.4" lengthAdjust="spacingAndGlyphs">0.811 - 0.826</text>
<rect x="19.2" y="71.98" width="14.4" height="7.13" fill="#2c6390" stroke="#777" stroke-width="0.35"/>
<text class="lg" x="35.1" y="78.08" textLength="43.4" lengthAdjust="spacingAndGlyphs">0.827 - 0.842</text>
<circle cx="121.9" cy="163.8" r="3.25" fill="#000"/>
<text class="st" transform="translate(125.2,158.8) scale(0.98,1)">J6</text>
<circle cx="154.0" cy="163.8" r="3.25" fill="#000"/>
<text class="st" transform="translate(157.3,158.8) scale(0.98,1)">J5</text>
<circle cx="186.3" cy="163.8" r="3.25" fill="#000"/>
<text class="st" transform="translate(189.60000000000002,158.8) scale(0.98,1)">J4</text>
<circle cx="218.5" cy="163.8" r="3.25" fill="#000"/>
<text class="st" transform="translate(221.8,158.8) scale(0.98,1)">J3</text>
<circle cx="251.1" cy="163.8" r="3.25" fill="#000"/>
<text class="st" transform="translate(254.4,158.8) scale(0.98,1)">J2</text>
<circle cx="121.9" cy="196.5" r="3.25" fill="#000"/>
<text class="st" transform="translate(125.2,191.5) scale(0.98,1)">J7</text>
<circle cx="154.0" cy="196.5" r="3.25" fill="#000"/>
<text class="st" transform="translate(157.3,191.5) scale(0.98,1)">J8</text>
<circle cx="186.3" cy="196.5" r="3.25" fill="#000"/>
<text class="st" transform="translate(189.60000000000002,191.5) scale(0.98,1)">J9</text>
<circle cx="218.5" cy="196.5" r="3.25" fill="#000"/>
<text class="st" transform="translate(221.8,191.5) scale(0.98,1)">J10</text>
<circle cx="121.9" cy="228.6" r="3.25" fill="#000"/>
<text class="st" transform="translate(125.2,223.6) scale(0.98,1)">J11</text>
<circle cx="154.0" cy="228.6" r="3.25" fill="#000"/>
<text class="st" transform="translate(157.3,223.6) scale(0.98,1)">J12</text>
<circle cx="186.3" cy="228.6" r="3.25" fill="#000"/>
<text class="st" transform="translate(189.60000000000002,223.6) scale(0.98,1)">J13</text>
<circle cx="218.5" cy="228.6" r="3.25" fill="#000"/>
<text class="st" transform="translate(221.8,223.6) scale(0.98,1)">J14</text>
<circle cx="283.3" cy="131.4" r="3.25" fill="#000"/>
<text class="st" transform="translate(286.6,126.4) scale(0.98,1)">J1</text>
</g>
<g transform="translate(357.4,308.5) scale(1,1)">
<g clip-path="url(#land)">
<rect x="0" y="0" width="340" height="300" fill="#618ab1"/>
<path d="M231.5,123.3C231.5,119.9 233.2,112.2 233.9,110.1C234.5,107.9 235.0,108.4 236.3,107.2C237.6,106.0 241.3,102.1 243.5,100.8C245.8,99.5 250.1,98.1 253.1,97.6C256.1,97.0 262.6,96.6 266.0,96.8C269.4,96.9 275.6,97.7 278.8,98.4C282.0,99.0 287.3,100.7 290.1,101.6C292.9,102.4 296.5,104.0 299.7,104.8C302.9,105.5 308.1,103.8 314.2,107.2C320.2,110.6 340.9,105.0 345.0,130.0C349.1,155.0 355.2,274.4 345.0,295.0C334.8,315.6 279.2,287.9 268.8,284.5C258.3,281.0 267.3,273.3 266.6,269.2C265.9,265.1 264.2,257.3 263.3,253.8C262.4,250.3 261.1,244.9 260.0,242.9C259.0,240.8 257.1,240.8 255.7,238.5C254.2,236.2 250.7,229.2 249.1,225.4C247.5,221.6 245.0,214.2 243.6,210.0C242.2,205.8 239.7,198.2 238.7,193.9C237.7,189.6 236.7,182.1 236.3,177.9C235.8,173.6 235.4,165.6 235.2,161.8C234.9,157.9 234.8,152.5 234.7,148.9C234.5,145.4 234.3,138.7 233.9,135.3C233.4,131.9 231.5,126.6 231.5,123.3Z" fill="#7da1c1" />
<path d="M237.1,163.4C237.3,160.2 237.7,152.4 238.7,148.9C239.7,145.5 242.2,140.3 244.3,137.7C246.4,135.1 251.9,130.9 254.7,129.7C257.6,128.5 263.2,128.3 266.0,128.6C268.8,128.8 273.3,130.3 275.6,131.3C278.0,132.3 281.1,134.9 283.7,136.1C286.2,137.3 291.9,139.1 294.9,140.1C297.9,141.1 302.7,142.4 306.1,143.3C309.6,144.3 315.4,139.8 320.6,147.3C325.8,154.9 341.7,185.0 345.0,200.0C348.3,215.0 355.3,258.0 345.0,260.0C334.7,262.0 279.4,221.9 267.6,214.8C255.8,207.7 259.1,209.1 256.4,206.8C253.6,204.4 248.9,200.1 246.7,197.1C244.6,194.1 241.5,187.5 240.3,184.3C239.1,181.1 237.8,175.8 237.4,173.0C237.0,170.2 236.9,166.6 237.1,163.4Z" fill="#98b7cd" />
<path d="M241.9,163.4C242.0,160.2 242.4,155.2 244.0,152.2C245.6,149.1 248.4,146.5 251.5,144.9C254.7,143.4 259.0,142.7 262.8,143.0C266.5,143.3 270.5,144.7 274.0,146.5C277.5,148.3 280.7,150.7 283.7,153.8C286.6,156.8 288.7,161.8 291.7,165.0C294.6,168.2 302.4,167.7 301.3,173.0C300.2,178.4 290.3,193.9 285.3,197.1C280.2,200.4 275.1,194.1 270.8,192.6C266.5,191.2 263.2,190.3 259.6,188.3C256.0,186.2 251.8,183.1 249.1,180.3C246.4,177.4 244.7,174.2 243.5,171.4C242.3,168.6 241.8,166.6 241.9,163.4Z" fill="#b6cfdc" />
<path d="M246.7,163.4C246.6,160.7 247.5,157.2 249.1,155.4C250.7,153.5 253.8,152.3 256.4,152.2C258.9,152.0 262.2,153.0 264.4,154.6C266.5,156.2 268.4,159.4 269.2,161.8C270.0,164.2 270.0,166.9 269.2,169.0C268.4,171.2 266.5,173.6 264.4,174.6C262.2,175.6 258.8,175.5 256.4,175.0C253.9,174.4 251.5,173.4 249.9,171.4C248.3,169.5 246.9,166.1 246.7,163.4Z" fill="#d4e5eb" />
<path d="M14.6,86.0C17.5,87.3 18.8,89.0 21.6,90.2C24.4,91.4 32.0,93.1 35.6,94.9C39.2,96.6 45.1,100.9 48.5,103.0C51.9,105.2 57.4,109.0 61.3,111.2C65.2,113.4 73.6,117.4 77.7,119.4C81.7,121.4 88.6,125.3 91.7,126.4C94.8,127.5 98.5,127.5 101.0,127.6C103.5,127.7 107.9,126.9 110.4,127.1C112.9,127.2 117.2,127.7 119.7,128.7C122.2,129.7 126.9,132.9 129.1,134.6C131.2,136.3 134.5,139.4 136.1,141.6C137.6,143.8 139.6,147.8 140.7,150.9C141.8,154.0 143.3,161.8 144.2,164.9C145.2,168.0 146.0,172.1 147.7,174.3C149.5,176.5 155.3,180.9 157.1,181.3C158.9,181.7 159.2,178.0 161.5,177.2C163.8,176.4 171.7,176.2 174.6,175.0C177.6,173.8 181.4,171.1 183.4,168.4C185.4,165.8 188.8,158.5 190.0,155.3C191.1,152.1 191.7,146.5 192.2,144.3C192.6,142.2 192.4,140.0 193.2,138.9C194.1,137.7 196.5,136.2 198.7,135.6C200.9,135.0 206.5,134.2 209.7,134.5C212.9,134.8 220.0,137.6 222.8,137.8C225.7,138.0 230.1,133.7 231.1,136.0C232.2,138.4 230.8,150.7 230.5,155.3C230.2,159.9 229.4,167.1 228.9,170.6C228.5,174.1 227.8,177.2 227.2,181.6C226.6,186.0 225.3,197.3 224.3,203.5C223.4,209.7 221.1,221.8 220.0,228.2C218.8,234.6 216.8,246.0 215.8,251.6C214.8,257.3 213.5,265.7 212.7,270.7C212.0,275.7 225.1,285.0 210.1,288.9C195.1,292.8 128.0,299.2 100.0,300.0C72.0,300.8 13.3,324.3 0.0,295.0C-13.3,265.7 -1.9,107.9 0.0,80.0C1.9,52.1 11.7,84.6 14.6,86.0Z" fill="#4676a2" />
<path d="M13.4,90.2C16.2,89.3 17.8,92.5 20.4,93.7C23.1,94.9 29.7,97.3 33.3,99.1C36.9,100.8 42.9,103.7 47.3,106.5C51.7,109.4 61.0,116.8 66.0,120.6C71.0,124.3 80.0,131.1 84.7,134.6C89.4,138.0 97.3,143.4 101.0,146.2C104.8,149.0 110.0,153.3 112.7,155.6C115.5,157.9 119.4,161.3 121.6,163.8C123.8,166.3 127.3,171.0 129.1,174.3C130.8,177.5 133.7,185.0 134.9,188.3C136.1,191.6 137.0,196.2 138.4,198.8C139.8,201.4 142.9,206.4 145.4,208.1C147.9,209.9 154.4,211.5 157.1,211.6C159.8,211.8 163.5,208.9 165.9,208.9C168.2,209.0 173.0,210.0 174.6,212.2C176.2,214.4 177.5,221.3 177.9,225.4C178.4,229.5 178.2,238.2 177.9,242.9C177.6,247.6 176.2,254.9 175.7,260.4C175.3,266.0 190.1,279.2 174.6,284.5C159.2,289.8 83.3,298.6 60.0,300.0C36.7,301.4 8.0,321.7 0.0,295.0C-8.0,268.3 -1.8,127.3 0.0,100.0C1.8,72.7 10.7,91.0 13.4,90.2Z" fill="#2c6390" />
<path d="M205.3,155.3C206.9,154.0 209.3,153.7 211.9,154.2C214.4,154.7 218.8,156.6 220.6,158.6C222.4,160.6 223.0,163.5 222.8,166.2C222.6,169.0 221.0,172.1 219.5,175.0C218.1,177.9 216.1,181.2 214.1,183.8C212.0,186.3 209.9,188.9 207.5,190.3C205.1,191.8 201.3,193.3 199.8,192.5C198.4,191.8 198.5,189.2 198.7,186.0C198.9,182.7 200.4,176.8 200.9,172.8C201.5,168.8 201.3,164.8 202.0,161.9C202.7,158.9 203.7,156.6 205.3,155.3Z" fill="#2c6390" />
<path d="M187.8,198.7C188.0,197.8 190.7,196.2 192.2,195.8C193.6,195.4 196.0,195.9 196.5,196.5C197.1,197.0 196.4,198.4 195.4,199.1C194.5,199.8 192.3,200.9 191.1,200.8C189.8,200.8 187.6,199.5 187.8,198.7Z" fill="#2c6390" />
<path d="M114.6,230.3C114.5,229.0 115.4,227.6 116.2,226.8C117.1,226.0 118.7,225.5 119.7,225.7C120.8,225.8 121.9,226.6 122.5,227.5C123.1,228.5 123.5,230.3 123.2,231.5C122.9,232.7 121.9,234.0 120.9,234.5C119.8,235.0 118.0,235.2 116.9,234.5C115.9,233.8 114.7,231.6 114.6,230.3Z" fill="#4676a2" />
</g>
<path d="M33.3,81.7L45.0,82.1L48.5,85.2L49.7,91.0L54.4,99.6L84.5,100.2L129.4,89.2L164.0,86.4L161.9,111.2L166.3,111.7L175.9,119.1L190.8,119.6L213.6,131.0L234.6,136.2L249.5,119.6L224.6,105.9L222.7,73.2L236.8,41.5L258.2,30.2L264.0,38.8L275.5,81.7L294.3,86.2L317.6,119.3L291.8,174.3L265.4,212.8L260.5,239.4L242.3,252.3L242.3,258.3L261.0,259.3L278.3,264.3L294.3,272.0L112.4,272.0L109.8,258.5L94.2,242.2L75.4,235.4L54.3,230.8L35.6,222.5L25.2,205.2L21.6,185.4L25.2,165.6L35.6,144.6L46.0,121.4L41.4,108.6L21.3,100.4L20.5,97.5L27.5,84.0Z" fill="none" stroke="#333" stroke-width="0.8" stroke-linejoin="round"/>
<rect x="16.5" y="18.5" width="301.8" height="253.5" fill="none" stroke="#404040" stroke-width="1"/>
<path d="M13.2,19.8H16.5M13.2,37.8H16.5M13.2,55.8H16.5M13.2,73.8H16.5M13.2,91.8H16.5M13.2,109.8H16.5M13.2,127.8H16.5M13.2,145.8H16.5M13.2,163.8H16.5M13.2,181.8H16.5M13.2,199.8H16.5M13.2,217.8H16.5M13.2,235.8H16.5M13.2,253.8H16.5M13.2,271.8H16.5M17.7,272.0V275.1M35.7,272.0V275.1M53.7,272.0V275.1M71.7,272.0V275.1M89.7,272.0V275.1M107.7,272.0V275.1M125.7,272.0V275.1M143.7,272.0V275.1M161.7,272.0V275.1M179.7,272.0V275.1M197.7,272.0V275.1M215.7,272.0V275.1M233.7,272.0V275.1M251.7,272.0V275.1M269.7,272.0V275.1M287.7,272.0V275.1M305.7,272.0V275.1M16.5,18.5V272.0H318.3" stroke="#2e2e2e" stroke-width="1.15" fill="none"/>
<text class="ax" transform="translate(10.3,20) rotate(-90) scale(0.915,1)" text-anchor="middle">36°17'N</text>
<text class="ax" transform="translate(10.3,74) rotate(-90) scale(0.915,1)" text-anchor="middle">36°14'N</text>
<text class="ax" transform="translate(10.3,128) rotate(-90) scale(0.915,1)" text-anchor="middle">36°11'N</text>
<text class="ax" transform="translate(10.3,182) rotate(-90) scale(0.915,1)" text-anchor="middle">36°8'N</text>
<text class="ax" transform="translate(10.3,236) rotate(-90) scale(0.915,1)" text-anchor="middle">36°5'N</text>
<text class="ax" transform="translate(35.7,285.6) scale(0.915,1)" text-anchor="middle">120°6'E</text>
<text class="ax" transform="translate(89.7,285.6) scale(0.915,1)" text-anchor="middle">120°9'E</text>
<text class="ax" transform="translate(143.7,285.6) scale(0.915,1)" text-anchor="middle">120°12'E</text>
<text class="ax" transform="translate(197.7,285.6) scale(0.915,1)" text-anchor="middle">120°15'E</text>
<text class="ax" transform="translate(251.7,285.6) scale(0.915,1)" text-anchor="middle">120°18'E</text>
<text class="ax" transform="translate(305.7,285.6) scale(0.915,1)" text-anchor="middle">120°21'E</text>
<text class="ti" transform="translate(317.1,31.8) scale(0.89,1)" text-anchor="end">FDis</text>
<rect x="19.0" y="29.20" width="14.4" height="7.13" fill="#d4e5eb" stroke="#777" stroke-width="0.35"/>
<text class="lg" x="35.1" y="35.30" textLength="34.8" lengthAdjust="spacingAndGlyphs">2.82 - 3.09</text>
<rect x="19.0" y="36.33" width="14.4" height="7.13" fill="#b6cfdc" stroke="#777" stroke-width="0.35"/>
<text class="lg" x="35.1" y="42.43" textLength="34.8" lengthAdjust="spacingAndGlyphs">3.10 - 3.37</text>
<rect x="19.0" y="43.46" width="14.4" height="7.13" fill="#98b7cd" stroke="#777" stroke-width="0.35"/>
<text class="lg" x="35.1" y="49.56" textLength="34.8" lengthAdjust="spacingAndGlyphs">3.38 - 3.64</text>
<rect x="19.0" y="50.59" width="14.4" height="7.13" fill="#7da1c1" stroke="#777" stroke-width="0.35"/>
<text class="lg" x="35.1" y="56.69" textLength="34.8" lengthAdjust="spacingAndGlyphs">3.65 - 3.91</text>
<rect x="19.0" y="57.72" width="14.4" height="7.13" fill="#618ab1" stroke="#777" stroke-width="0.35"/>
<text class="lg" x="35.1" y="63.82" textLength="34.8" lengthAdjust="spacingAndGlyphs">3.92 - 4.18</text>
<rect x="19.0" y="64.85" width="14.4" height="7.13" fill="#4676a2" stroke="#777" stroke-width="0.35"/>
<text class="lg" x="35.1" y="70.95" textLength="34.8" lengthAdjust="spacingAndGlyphs">4.19 - 4.46</text>
<rect x="19.0" y="71.98" width="14.4" height="7.13" fill="#2c6390" stroke="#777" stroke-width="0.35"/>
<text class="lg" x="35.1" y="78.08" textLength="34.8" lengthAdjust="spacingAndGlyphs">4.47 - 4.73</text>
<circle cx="121.9" cy="163.8" r="3.25" fill="#000"/>
<text class="st" transform="translate(125.2,158.8) scale(0.98,1)">J6</text>
<circle cx="154.0" cy="163.8" r="3.25" fill="#000"/>
<text class="st" transform="translate(157.3,158.8) scale(0.98,1)">J5</text>
<circle cx="186.3" cy="163.8" r="3.25" fill="#000"/>
<text class="st" transform="translate(189.60000000000002,158.8) scale(0.98,1)">J4</text>
<circle cx="218.5" cy="163.8" r="3.25" fill="#000"/>
<text class="st" transform="translate(221.8,158.8) scale(0.98,1)">J3</text>
<circle cx="251.1" cy="163.8" r="3.25" fill="#000"/>
<text class="st" transform="translate(254.4,158.8) scale(0.98,1)">J2</text>
<circle cx="121.9" cy="196.5" r="3.25" fill="#000"/>
<text class="st" transform="translate(125.2,191.5) scale(0.98,1)">J7</text>
<circle cx="154.0" cy="196.5" r="3.25" fill="#000"/>
<text class="st" transform="translate(157.3,191.5) scale(0.98,1)">J8</text>
<circle cx="186.3" cy="196.5" r="3.25" fill="#000"/>
<text class="st" transform="translate(189.60000000000002,191.5) scale(0.98,1)">J9</text>
<circle cx="218.5" cy="196.5" r="3.25" fill="#000"/>
<text class="st" transform="translate(221.8,191.5) scale(0.98,1)">J10</text>
<circle cx="121.9" cy="228.6" r="3.25" fill="#000"/>
<text class="st" transform="translate(125.2,223.6) scale(0.98,1)">J11</text>
<circle cx="154.0" cy="228.6" r="3.25" fill="#000"/>
<text class="st" transform="translate(157.3,223.6) scale(0.98,1)">J12</text>
<circle cx="186.3" cy="228.6" r="3.25" fill="#000"/>
<text class="st" transform="translate(189.60000000000002,223.6) scale(0.98,1)">J13</text>
<circle cx="218.5" cy="228.6" r="3.25" fill="#000"/>
<text class="st" transform="translate(221.8,223.6) scale(0.98,1)">J14</text>
<circle cx="283.3" cy="131.4" r="3.25" fill="#000"/>
<text class="st" transform="translate(286.6,126.4) scale(0.98,1)">J1</text>
</g>
<g transform="translate(176,611.4) scale(1.007,1.006)">
<g clip-path="url(#land)">
<rect x="0" y="0" width="340" height="300" fill="#4676a2"/>
<path d="M13.6,88.3C16.6,94.0 17.9,90.3 22.9,92.9C27.8,95.5 43.3,104.1 50.7,108.0C58.1,111.9 71.7,118.4 78.5,121.9C85.3,125.5 96.2,131.7 101.7,134.7C107.3,137.6 115.9,142.1 120.3,144.0C124.6,145.8 131.4,147.5 134.2,148.6C137.0,149.7 140.1,150.7 141.2,152.1C142.2,153.5 141.7,156.9 142.3,159.1C142.9,161.2 144.4,166.5 145.8,168.4C147.2,170.2 150.6,172.2 152.7,173.0C154.9,173.8 159.4,174.6 162.0,174.2C164.7,173.8 169.8,170.9 172.6,170.0C175.5,169.0 181.3,168.6 183.5,167.3C185.7,166.1 187.8,163.1 188.9,160.8C190.1,158.5 191.8,152.4 192.2,149.9C192.6,147.5 191.3,144.0 192.2,142.3C193.1,140.6 196.4,138.1 198.7,137.3C201.1,136.5 206.4,136.3 209.6,136.4C212.8,136.6 219.8,138.6 222.7,138.6C225.5,138.6 230.0,134.1 230.9,136.4C231.8,138.8 230.0,150.9 229.6,156.5C229.2,162.0 228.7,172.4 228.1,178.2C227.5,184.0 226.0,194.8 224.8,200.0C223.7,205.2 221.1,212.8 219.4,217.4C217.7,222.0 214.0,230.8 211.8,234.8C209.6,238.9 205.4,244.4 203.1,247.9C200.8,251.4 196.6,257.9 194.4,260.9C192.2,264.0 188.8,267.5 186.8,270.7C184.7,273.9 158.1,281.0 179.2,284.9C200.3,288.8 322.9,338.0 345.0,300.0C367.1,262.0 391.0,40.0 345.0,0.0C299.0,-40.0 46.0,-6.7 0.0,0.0C-46.0,6.7 -1.8,38.2 0.0,50.0C1.8,61.8 10.5,82.5 13.6,88.3Z" fill="#618ab1" />
<path d="M225.5,117.2C225.2,112.4 229.6,105.8 231.0,102.9C232.5,99.9 234.3,97.2 236.5,95.2C238.7,93.1 244.0,88.9 247.6,87.4C251.1,86.0 258.9,84.4 263.0,84.1C267.1,83.8 274.9,84.6 278.4,85.2C282.0,85.8 285.6,87.5 289.4,88.5C293.3,89.6 299.7,91.4 307.1,93.0C314.5,94.5 339.9,73.1 345.0,100.0C350.1,126.9 357.7,270.3 345.0,295.0C332.3,319.7 263.0,288.1 249.8,284.9C236.7,281.6 247.9,275.1 246.6,270.7C245.3,266.4 241.1,257.0 240.0,252.2C239.0,247.4 239.5,241.8 239.0,234.8C238.4,227.9 236.3,207.5 235.7,200.0C235.1,192.4 234.8,184.0 234.6,178.2C234.4,172.4 234.1,161.7 234.0,156.5C233.8,151.2 234.7,144.3 233.5,139.0C232.4,133.8 225.9,122.0 225.5,117.2Z" fill="#7da1c1" />
<path d="M26.3,80.1L47.2,79.0L53.0,98.7L83.2,99.9L70.4,112.6L22.9,92.9L15.9,89.4Z" fill="#7da1c1" />
<path d="M237.6,159.1C237.5,154.4 237.6,150.1 238.7,145.9C239.8,141.7 241.7,137.1 244.3,133.8C246.8,130.5 250.3,127.5 254.2,126.1C258.0,124.6 263.0,124.6 267.4,124.9C271.8,125.3 276.2,127.0 280.6,128.3C285.0,129.5 288.7,131.2 293.9,132.7C299.0,134.1 304.9,134.9 311.5,137.1C318.1,139.3 334.3,136.3 333.5,145.9C332.8,155.5 317.0,181.2 307.1,194.5C297.2,207.7 282.1,223.1 274.0,225.3C265.9,227.6 263.0,213.6 258.6,207.7C254.2,201.8 250.7,195.6 247.6,190.0C244.4,184.5 241.5,179.7 239.8,174.6C238.2,169.4 237.8,163.9 237.6,159.1Z" fill="#98b7cd" />
<path d="M242.1,163.6C242.1,160.1 242.8,154.0 244.3,150.3C245.7,146.6 247.7,143.3 250.9,141.5C254.0,139.7 258.8,138.9 263.0,139.3C267.2,139.7 272.2,141.5 276.2,143.7C280.3,145.9 283.6,149.6 287.2,152.5C290.9,155.5 293.5,158.4 298.3,161.4C303.0,164.3 318.5,162.5 315.9,170.2C313.3,177.9 291.6,204.8 282.8,207.7C274.0,210.6 268.3,192.6 263.0,187.8C257.7,183.1 254.0,181.8 250.9,179.0C247.7,176.2 245.7,173.9 244.3,171.3C242.8,168.7 242.1,167.1 242.1,163.6Z" fill="#b6cfdc" />
<path d="M246.5,163.6C246.1,160.8 247.2,157.9 248.7,155.8C250.1,153.8 252.7,152.0 255.3,151.4C257.9,150.9 261.5,151.2 264.1,152.5C266.7,153.8 269.4,156.6 270.7,159.1C272.0,161.7 272.4,165.4 271.8,168.0C271.3,170.5 269.6,173.1 267.4,174.6C265.2,176.1 261.3,177.2 258.6,176.8C255.8,176.4 252.9,174.6 250.9,172.4C248.8,170.2 246.8,166.3 246.5,163.6Z" fill="#d4e5eb" />
<path d="M51.8,193.9C51.8,190.0 52.8,184.0 55.3,180.0C57.8,175.9 61.9,172.0 66.9,169.5C72.0,167.0 79.3,165.5 85.5,164.9C91.7,164.3 98.6,165.3 104.0,166.0C109.5,166.8 114.1,168.0 118.0,169.5C121.8,171.1 124.1,172.8 127.2,175.3C130.3,177.8 133.4,181.5 136.5,184.6C139.6,187.7 142.3,191.4 145.8,193.9C149.3,196.4 154.0,198.0 157.4,199.7C160.8,201.4 163.8,202.5 166.1,204.3C168.5,206.2 170.6,207.2 171.6,210.9C172.5,214.5 172.1,221.4 171.6,226.1C171.0,230.8 169.9,235.7 168.3,239.2C166.7,242.6 164.3,245.3 161.8,246.8C159.2,248.2 156.0,248.4 153.1,247.9C150.2,247.3 146.4,245.2 144.4,243.5C142.4,241.9 142.3,240.5 141.2,238.0C140.0,235.5 138.8,231.8 137.7,228.7C136.5,225.6 136.3,221.6 134.2,219.4C132.1,217.3 129.6,216.3 124.9,216.0C120.3,215.6 112.9,217.3 106.4,217.1C99.8,216.9 92.1,216.0 85.5,214.8C78.9,213.6 72.0,212.1 66.9,210.1C61.9,208.2 57.8,205.9 55.3,203.2C52.8,200.5 51.8,197.8 51.8,193.9Z" fill="#2c6390" />
<path d="M205.3,156.5C206.8,154.8 209.4,154.8 211.8,154.9C214.1,155.1 217.6,155.8 219.4,157.5C221.2,159.3 222.7,162.6 222.7,165.2C222.7,167.7 220.8,170.6 219.4,172.8C217.9,175.0 215.9,177.0 214.0,178.2C212.0,179.5 209.2,180.8 207.4,180.4C205.6,180.0 203.9,178.6 203.1,176.0C202.3,173.5 202.3,168.4 202.6,165.2C203.0,161.9 203.7,158.2 205.3,156.5Z" fill="#2c6390" />
</g>
<path d="M33.3,81.7L45.0,82.1L48.5,85.2L49.7,91.0L54.4,99.6L84.5,100.2L129.4,89.2L164.0,86.4L161.9,111.2L166.3,111.7L175.9,119.1L190.8,119.6L213.6,131.0L234.6,136.2L249.5,119.6L224.6,105.9L222.7,73.2L236.8,41.5L258.2,30.2L264.0,38.8L275.5,81.7L294.3,86.2L317.6,119.3L291.8,174.3L265.4,212.8L260.5,239.4L242.3,252.3L242.3,258.3L261.0,259.3L278.3,264.3L294.3,272.0L112.4,272.0L109.8,258.5L94.2,242.2L75.4,235.4L54.3,230.8L35.6,222.5L25.2,205.2L21.6,185.4L25.2,165.6L35.6,144.6L46.0,121.4L41.4,108.6L21.3,100.4L20.5,97.5L27.5,84.0Z" fill="none" stroke="#333" stroke-width="0.8" stroke-linejoin="round"/>
<rect x="16.5" y="18.5" width="301.8" height="253.5" fill="none" stroke="#404040" stroke-width="1"/>
<path d="M13.2,19.8H16.5M13.2,37.8H16.5M13.2,55.8H16.5M13.2,73.8H16.5M13.2,91.8H16.5M13.2,109.8H16.5M13.2,127.8H16.5M13.2,145.8H16.5M13.2,163.8H16.5M13.2,181.8H16.5M13.2,199.8H16.5M13.2,217.8H16.5M13.2,235.8H16.5M13.2,253.8H16.5M13.2,271.8H16.5M17.7,272.0V275.1M35.7,272.0V275.1M53.7,272.0V275.1M71.7,272.0V275.1M89.7,272.0V275.1M107.7,272.0V275.1M125.7,272.0V275.1M143.7,272.0V275.1M161.7,272.0V275.1M179.7,272.0V275.1M197.7,272.0V275.1M215.7,272.0V275.1M233.7,272.0V275.1M251.7,272.0V275.1M269.7,272.0V275.1M287.7,272.0V275.1M305.7,272.0V275.1M16.5,18.5V272.0H318.3" stroke="#2e2e2e" stroke-width="1.15" fill="none"/>
<text class="ax" transform="translate(10.3,20) rotate(-90) scale(0.915,1)" text-anchor="middle">36°17'N</text>
<text class="ax" transform="translate(10.3,74) rotate(-90) scale(0.915,1)" text-anchor="middle">36°14'N</text>
<text class="ax" transform="translate(10.3,128) rotate(-90) scale(0.915,1)" text-anchor="middle">36°11'N</text>
<text class="ax" transform="translate(10.3,182) rotate(-90) scale(0.915,1)" text-anchor="middle">36°8'N</text>
<text class="ax" transform="translate(10.3,236) rotate(-90) scale(0.915,1)" text-anchor="middle">36°5'N</text>
<text class="ax" transform="translate(35.7,285.6) scale(0.915,1)" text-anchor="middle">120°6'E</text>
<text class="ax" transform="translate(89.7,285.6) scale(0.915,1)" text-anchor="middle">120°9'E</text>
<text class="ax" transform="translate(143.7,285.6) scale(0.915,1)" text-anchor="middle">120°12'E</text>
<text class="ax" transform="translate(197.7,285.6) scale(0.915,1)" text-anchor="middle">120°15'E</text>
<text class="ax" transform="translate(251.7,285.6) scale(0.915,1)" text-anchor="middle">120°18'E</text>
<text class="ax" transform="translate(305.7,285.6) scale(0.915,1)" text-anchor="middle">120°21'E</text>
<text class="ti" transform="translate(317.1,31.8) scale(0.89,1)" text-anchor="end">RaoQ</text>
<rect x="18.8" y="29.20" width="14.4" height="7.13" fill="#d4e5eb" stroke="#777" stroke-width="0.35"/>
<text class="lg" x="35.2" y="35.30" textLength="43.0" lengthAdjust="spacingAndGlyphs">11.02 - 12.94</text>
<rect x="18.8" y="36.33" width="14.4" height="7.13" fill="#b6cfdc" stroke="#777" stroke-width="0.35"/>
<text class="lg" x="35.2" y="42.43" textLength="43.0" lengthAdjust="spacingAndGlyphs">12.95 - 14.84</text>
<rect x="18.8" y="43.46" width="14.4" height="7.13" fill="#98b7cd" stroke="#777" stroke-width="0.35"/>
<text class="lg" x="35.2" y="49.56" textLength="43.0" lengthAdjust="spacingAndGlyphs">14.86 - 16.77</text>
<rect x="18.8" y="50.59" width="14.4" height="7.13" fill="#7da1c1" stroke="#777" stroke-width="0.35"/>
<text class="lg" x="35.2" y="56.69" textLength="43.0" lengthAdjust="spacingAndGlyphs">16.78 - 18.68</text>
<rect x="18.8" y="57.72" width="14.4" height="7.13" fill="#618ab1" stroke="#777" stroke-width="0.35"/>
<text class="lg" x="35.2" y="63.82" textLength="43.0" lengthAdjust="spacingAndGlyphs">18.69 - 20.59</text>
<rect x="18.8" y="64.85" width="14.4" height="7.13" fill="#4676a2" stroke="#777" stroke-width="0.35"/>
<text class="lg" x="35.2" y="70.95" textLength="43.0" lengthAdjust="spacingAndGlyphs">20.60 - 22.51</text>
<rect x="18.8" y="71.98" width="14.4" height="7.13" fill="#2c6390" stroke="#777" stroke-width="0.35"/>
<text class="lg" x="35.2" y="78.08" textLength="43.0" lengthAdjust="spacingAndGlyphs">22.52 - 24.42</text>
<circle cx="121.9" cy="163.8" r="3.25" fill="#000"/>
<text class="st" transform="translate(125.2,158.8) scale(0.98,1)">J6</text>
<circle cx="154.0" cy="163.8" r="3.25" fill="#000"/>
<text class="st" transform="translate(157.3,158.8) scale(0.98,1)">J5</text>
<circle cx="186.3" cy="163.8" r="3.25" fill="#000"/>
<text class="st" transform="translate(189.60000000000002,158.8) scale(0.98,1)">J4</text>
<circle cx="218.5" cy="163.8" r="3.25" fill="#000"/>
<text class="st" transform="translate(221.8,158.8) scale(0.98,1)">J3</text>
<circle cx="251.1" cy="163.8" r="3.25" fill="#000"/>
<text class="st" transform="translate(254.4,158.8) scale(0.98,1)">J2</text>
<circle cx="121.9" cy="196.5" r="3.25" fill="#000"/>
<text class="st" transform="translate(125.2,191.5) scale(0.98,1)">J7</text>
<circle cx="154.0" cy="196.5" r="3.25" fill="#000"/>
<text class="st" transform="translate(157.3,191.5) scale(0.98,1)">J8</text>
<circle cx="186.3" cy="196.5" r="3.25" fill="#000"/>
<text class="st" transform="translate(189.60000000000002,191.5) scale(0.98,1)">J9</text>
<circle cx="218.5" cy="196.5" r="3.25" fill="#000"/>
<text class="st" transform="translate(221.8,191.5) scale(0.98,1)">J10</text>
<circle cx="121.9" cy="228.6" r="3.25" fill="#000"/>
<text class="st" transform="translate(125.2,223.6) scale(0.98,1)">J11</text>
<circle cx="154.0" cy="228.6" r="3.25" fill="#000"/>
<text class="st" transform="translate(157.3,223.6) scale(0.98,1)">J12</text>
<circle cx="186.3" cy="228.6" r="3.25" fill="#000"/>
<text class="st" transform="translate(189.60000000000002,223.6) scale(0.98,1)">J13</text>
<circle cx="218.5" cy="228.6" r="3.25" fill="#000"/>
<text class="st" transform="translate(221.8,223.6) scale(0.98,1)">J14</text>
<circle cx="283.3" cy="131.4" r="3.25" fill="#000"/>
<text class="st" transform="translate(286.6,126.4) scale(0.98,1)">J1</text>
</g>
</svg></body></html>
